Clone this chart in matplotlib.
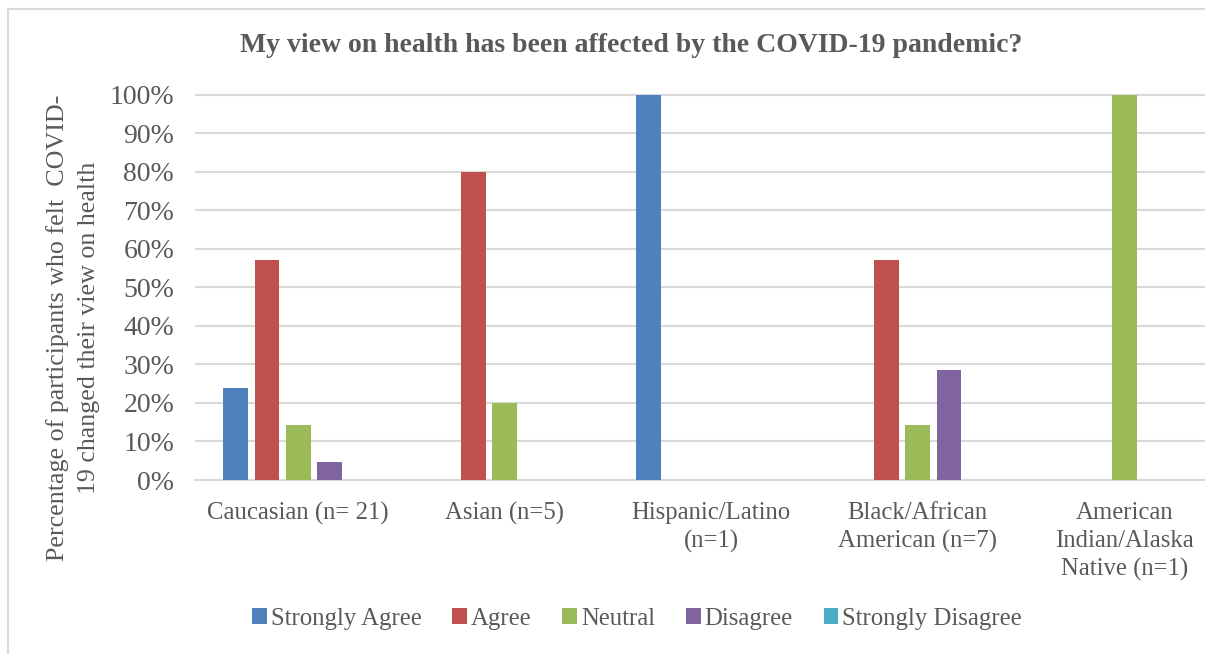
import matplotlib
matplotlib.use("Agg")
import matplotlib.pyplot as plt
import numpy as np
from matplotlib.patches import Patch
from matplotlib.lines import Line2D
from matplotlib.ticker import FuncFormatter, MultipleLocator

categories = ["Caucasian (n= 21)", "Asian (n=5)", "Hispanic/Latino\n(n=1)",
              "Black/African\nAmerican (n=7)", "American\nIndian/Alaska\nNative (n=1)"]
series_names = ["Strongly Agree", "Agree", "Neutral", "Disagree", "Strongly Disagree"]
strongly_agree = [0.238, 0.0, 1.0, 0.0, 0.0]
agree = [0.571, 0.80, 0.0, 0.571, 0.0]
neutral = [0.143, 0.20, 0.0, 0.143, 1.0]
disagree = [0.048, 0.0, 0.0, 0.286, 0.0]
strongly_disagree = [0.0, 0.0, 0.0, 0.0, 0.0]
colors = ["#4F81BD", "#C0504D", "#9BBB59", "#8064A2", "#4BACC6"]

title = "My view on health has been affected by the COVID-19 pandemic?"
ylabel = "Percentage of participants who felt  COVID-\n19 changed their view on health"

FONT = "Liberation Serif"
TXT = "#595959"
plt.rcParams["font.family"] = FONT

W, H = 1205, 654
fig = plt.figure(figsize=(W / 100, H / 100), dpi=100)

# chart border (top and left edges visible)
bc = "#d9d9d9"
fig.add_artist(Line2D([8 / W, 1.0], [1 - 8.5 / H, 1 - 8.5 / H], transform=fig.transFigure,
                      color=bc, linewidth=1.5))
fig.add_artist(Line2D([8 / W, 8 / W], [0.0, 1 - 8.5 / H], transform=fig.transFigure,
                      color=bc, linewidth=1.5))

gw = 206.5
ax = fig.add_axes([195 / W, (H - 480) / H, 5 * gw / W, 386.5 / H])

x = np.arange(len(categories))
step = 0.1516
bw = 0.1196
all_series = [strongly_agree, agree, neutral, disagree, strongly_disagree]
for i, (vals, c) in enumerate(zip(all_series, colors)):
    ax.bar(x + (i - 2) * step, vals, width=bw, color=c, zorder=3, linewidth=0)

ax.set_xlim(-0.5, len(categories) - 0.5)
ax.set_ylim(0, 1.003)
ax.yaxis.set_major_locator(MultipleLocator(0.1))
ax.yaxis.set_major_formatter(FuncFormatter(lambda v, p: f"{v*100:.0f}%"))
ax.grid(axis="y", color=bc, linewidth=1.5, zorder=0)
for s in ["top", "right", "left"]:
    ax.spines[s].set_visible(False)
ax.spines["bottom"].set_color(bc)
ax.spines["bottom"].set_linewidth(1.5)
ax.set_xticks(x)
ax.set_xticklabels(categories, fontsize=17.8, color=TXT, linespacing=1.33)
ax.tick_params(axis="x", length=0, colors=TXT, labelsize=17.8, pad=16)
ax.tick_params(axis="y", length=0, colors=TXT, labelsize=20, pad=15)

fig.text(631 / W, 1 - 45 / H, title, ha="center", va="center", fontsize=20,
         fontweight="bold", color=TXT)
fig.text(73 / W, 1 - 328 / H, ylabel, ha="center", va="center", rotation=90,
         fontsize=18.7, color=TXT, linespacing=1.5)

handles = [Patch(facecolor=c, edgecolor="none") for c in colors]
fig.legend(handles, series_names, loc="center", bbox_to_anchor=(637 / W, 1 - 619 / H),
           ncol=5, frameon=False, fontsize=17.8, labelcolor=TXT,
           handlelength=0.6, handleheight=0.6, handletextpad=0.15, columnspacing=1.25)

fig.savefig("out.png", dpi=100)
